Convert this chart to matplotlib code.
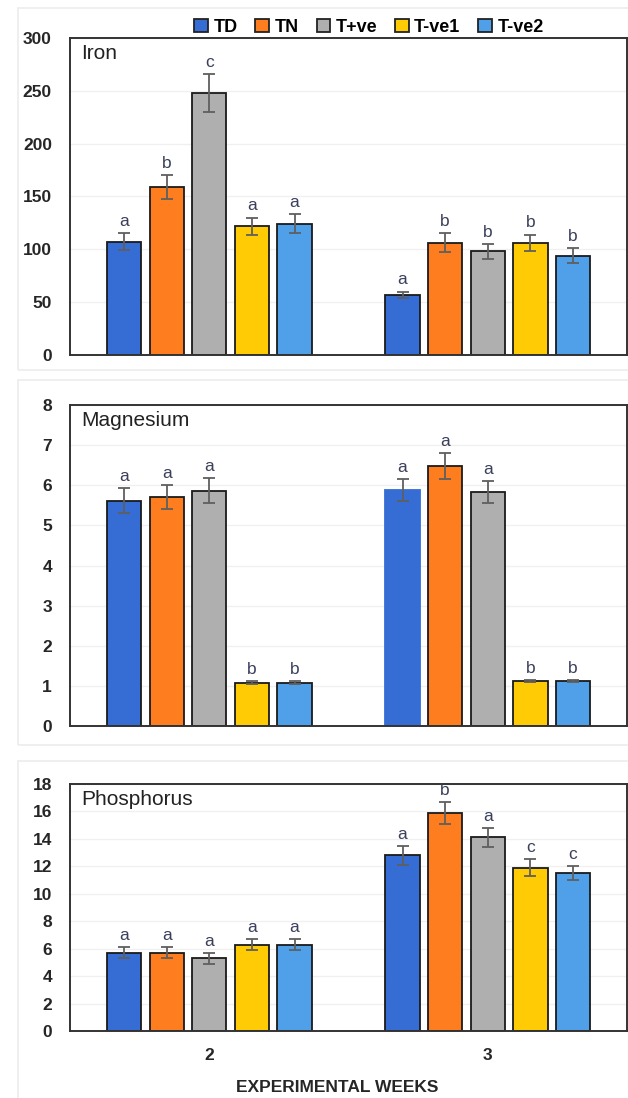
import numpy as np
import matplotlib.pyplot as plt
from matplotlib.patches import Rectangle, Patch

# treatments and weeks
groups = ['TD', 'TN', 'T+ve', 'T-ve1', 'T-ve2']
weeks = ['2', '3']
colors = ['#356dd4', '#fd7d1f', '#afafaf', '#ffcb05', '#50a0e9']

# Iron: rows = weeks, cols = treatments
iron_mean = [[107, 159, 248, 122, 124], [57, 106, 98, 106, 94]]
iron_err = [[8, 11, 18, 8, 9], [3, 9, 7, 8, 7]]
iron_lbl = [['a', 'b', 'c', 'a', 'a'], ['a', 'b', 'b', 'b', 'b']]

mg_mean = [[5.62, 5.7, 5.87, 1.08, 1.08], [5.88, 6.48, 5.84, 1.12, 1.12]]
mg_err = [[0.3, 0.3, 0.3, 0.03, 0.03], [0.28, 0.33, 0.27, 0.03, 0.03]]
mg_lbl = [['a', 'a', 'a', 'b', 'b'], ['a', 'a', 'a', 'b', 'b']]

p_mean = [[5.7, 5.7, 5.3, 6.3, 6.3], [12.8, 15.9, 14.1, 11.9, 11.5]]
p_err = [[0.4, 0.4, 0.4, 0.4, 0.4], [0.7, 0.8, 0.7, 0.6, 0.5]]
p_lbl = [['a', 'a', 'a', 'a', 'a'], ['a', 'b', 'a', 'c', 'c']]

plt.rcParams['font.family'] = ['Liberation Sans', 'DejaVu Sans']

fig = plt.figure(figsize=(6.28, 10.98), dpi=100)

# faint frames around each panel (figure pixels: top, bottom)
for top, bot in [(8, 370), (380, 745), (761, 1110)]:
    fig.patches.append(Rectangle((18 / 628, 1 - bot / 1098), 0.99, (bot - top) / 1098,
                                 transform=fig.transFigure, fill=False,
                                 ec='#ececec', lw=1.2))

panels = [
    ('Iron', iron_mean, iron_err, iron_lbl, 300, 50, [0.1115, 0.6767, 0.887, 0.2887]),
    ('Magnesium', mg_mean, mg_err, mg_lbl, 8, 1, [0.1115, 0.3388, 0.887, 0.2923]),
    ('Phosphorus', p_mean, p_err, p_lbl, 18, 2, [0.1115, 0.0610, 0.887, 0.2250]),
]

step = 0.153
width = 0.123
x = np.arange(len(weeks))

for k, (name, mean, err, lbl, ymax, ystep, pos) in enumerate(panels):
    ax = fig.add_axes(pos)
    for i, g in enumerate(groups):
        xs = x + (i - 2) * step
        vals = [mean[w][i] for w in range(len(weeks))]
        errs = [err[w][i] for w in range(len(weeks))]
        edges = ['#1a1a1a'] * len(weeks)
        if name == 'Magnesium' and i == 0:
            edges[1] = colors[0]
        ax.bar(xs, vals, width, color=colors[i], edgecolor=edges, lw=1.3, zorder=2)
        ax.errorbar(xs, vals, yerr=errs, fmt='none', ecolor='#5f5f5f', elinewidth=1.3,
                    capsize=4, capthick=1.3, zorder=3)
        for w in range(len(weeks)):
            ax.annotate(lbl[w][i], (xs[w], vals[w] + errs[w]), xytext=(0, 3),
                        textcoords='offset points', ha='center', va='bottom',
                        fontsize=12.5, color='#3a3f5c')
    ax.set_xlim(-0.5, 1.5)
    ax.set_ylim(0, ymax)
    ax.set_yticks(np.arange(0, ymax + ystep, ystep))
    ax.yaxis.grid(True, color='#f0f0f0', lw=1, zorder=0)
    ax.set_axisbelow(True)
    ax.tick_params(axis='y', length=0, pad=13, labelsize=12.5)
    for t in ax.get_yticklabels():
        t.set_fontweight('bold')
        t.set_color('#262626')
    for s in ax.spines.values():
        s.set_color('#333333')
        s.set_linewidth(1.4)
    ax.annotate(name, (0, 1), xycoords='axes fraction', xytext=(8, -4),
                textcoords='offset points', ha='left', va='top',
                fontsize=15, color='#222222')
    if k == 2:
        ax.set_xticks(x)
        ax.set_xticklabels(weeks, fontweight='bold', fontsize=12.5, color='#262626')
        ax.tick_params(axis='x', length=0, pad=12)
    else:
        ax.set_xticks([])

fig.text(337 / 628, 1 - 1087 / 1098, 'EXPERIMENTAL WEEKS', ha='center', va='center',
         fontweight='bold', fontsize=12.5, color='#262626')

handles = [Patch(facecolor=c, edgecolor='#222222', lw=1.3) for c in colors]
fig.legend(handles, groups, loc='center', bbox_to_anchor=(369 / 628, 1 - 27 / 1098), ncol=5,
           frameon=False, prop={'weight': 'bold', 'size': 13},
           handlelength=0.75, handleheight=0.75, handletextpad=0.3, columnspacing=1.0,
           borderpad=0)

fig.savefig('out.png', dpi=100)
